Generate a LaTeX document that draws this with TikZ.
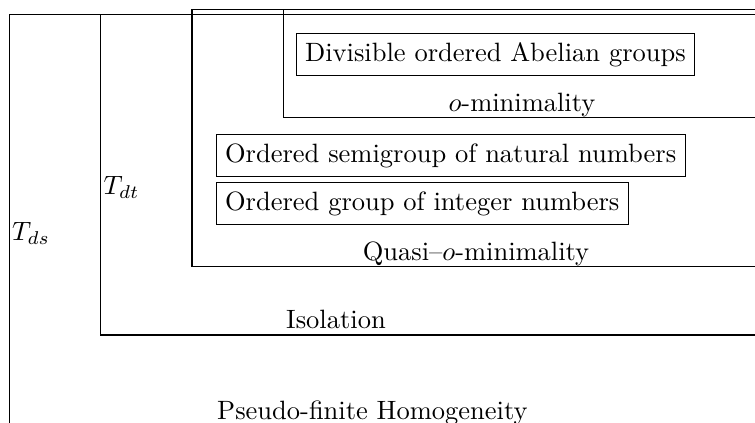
\documentclass[tikz,border=0pt]{standalone}
\begin{document}
\begin{tikzpicture}[x=0.3774pt,y=-0.3774pt,
  frame/.style={draw=black,line width=0.4pt},
  boxed/.style={draw=black,line width=0.4pt,inner sep=3.33pt,anchor=north west},
  lbl/.style={inner sep=0pt,anchor=base}]
\clip (0,0) rectangle (755,423);
% nested regions (open to the right and bottom)
\draw[frame] (9.5,440) -- (9.5,14.3) -- (770,14.3);
\draw[frame] (770,335) -- (100.5,335) -- (100.5,14.3);
\draw[frame] (770,266.7) -- (192,266.7) -- (192,9.3) -- (770,9.3);
\draw[frame] (770,117.7) -- (283.5,117.7) -- (283.5,9.3);
% boxed examples
\node[boxed] (dag) at (295.7,33.3) {Divisible ordered Abelian groups};
\node[boxed] (nat) at (215.7,134.3) {Ordered semigroup of natural numbers};
\node[boxed] (int) at (215.7,182.3) {Ordered group of integer numbers};
% region labels
\node[lbl] (omin) at (522,111.5) {$o$-minimality};
\node[lbl] (qomin) at (476,260.5) {Quasi--$o$-minimality};
\node[lbl] (iso) at (336,328.3) {Isolation};
\node[lbl,anchor=base west] (pfh) at (216.7,420) {Pseudo-finite Homogeneity};
\node[lbl,anchor=base west] (tdt) at (103,195) {$T_{dt}$};
\node[lbl,anchor=base west] (tds) at (11.5,241) {$T_{ds}$};
\end{tikzpicture}
\end{document}
